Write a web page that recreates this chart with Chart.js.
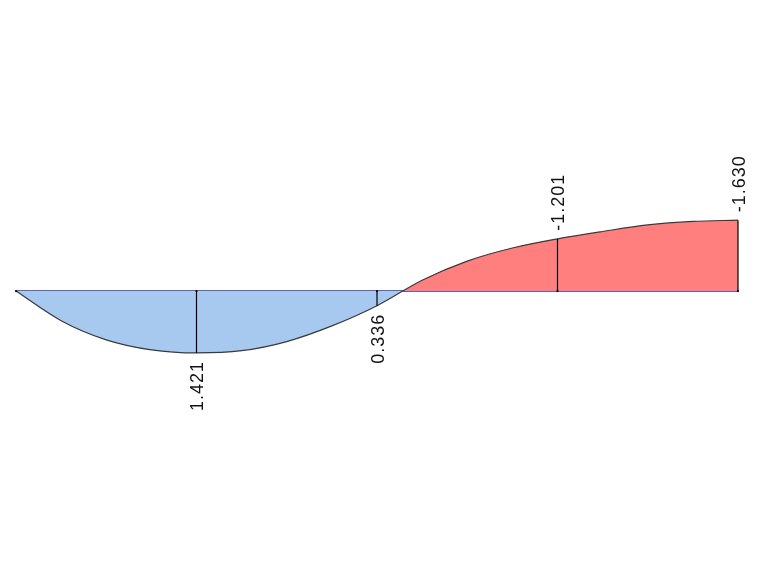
<!DOCTYPE html>
<html>
<head>
<meta charset="utf-8">
<script src="https://cdn.jsdelivr.net/npm/chart.js@4"></script>
<style>
  html, body { margin: 0; padding: 0; background: #fff; }
  #wrap { width: 760px; height: 570px; }
</style>
</head>
<body>
<div id="wrap"><canvas id="momentChart" width="760" height="570"></canvas></div>
<script>
// bending moment along the beam (positive = sagging, drawn below the axis)
const positions = [0, 0.25, 0.5, 0.75, 1, 1.25, 1.5, 1.75, 2, 2.25, 2.5, 2.75, 3, 3.25, 3.5, 3.75, 4];
const moments   = [0, 0.68, 1.12, 1.35, 1.421, 1.37, 1.16, 0.80, 0.336, -0.25, -0.69, -0.99, -1.201, -1.37, -1.52, -1.60, -1.630];

// stations that get a vertical marker and a value label
const stationPos = [0, 1, 2, 3, 4];
const stationVal = [0, 1.421, 0.336, -1.201, -1.630];
const stationLabel = ['', '1.421', '0.336', '-1.201', '-1.630'];

const curveData = positions.map((x, i) => ({ x: x, y: moments[i] }));
const axisData = [{ x: positions[0], y: 0 }, { x: positions[positions.length - 1], y: 0 }];

// draws station verticals and rotated value labels using the chart scales
const stationPlugin = {
    id: 'stations',
    afterDatasetsDraw(chart) {
        const ctx = chart.ctx;
        const xs = chart.scales.x;
        const ys = chart.scales.y;
        const y0 = ys.getPixelForValue(0);

        ctx.save();
        stationPos.forEach((p, i) => {
            const px = xs.getPixelForValue(p);
            const py = ys.getPixelForValue(stationVal[i]);

            ctx.strokeStyle = '#000';
            ctx.lineWidth = 1.2;
            ctx.beginPath();
            ctx.moveTo(px, y0);
            ctx.lineTo(px, py);
            ctx.stroke();

            ctx.fillStyle = '#000';
            ctx.beginPath();
            ctx.arc(px, y0, 1.1, 0, Math.PI * 2);
            ctx.fill();

            const txt = stationLabel[i];
            if (!txt) return;

            ctx.font = '18px "Liberation Sans", Arial, sans-serif';
            ctx.letterSpacing = '1px';
            const w = ctx.measureText(txt).width;
            const gap = 8;
            const below = stationVal[i] > 0;
            ctx.save();
            ctx.translate(px + 1, below ? py + gap : py - gap);
            ctx.rotate(-Math.PI / 2);
            ctx.textBaseline = 'middle';
            ctx.textAlign = below ? 'right' : 'left';
            // white box behind the label
            ctx.fillStyle = '#fff';
            if (below) ctx.fillRect(-w - 2, -8, w + 4, 16);
            else ctx.fillRect(-2, -8, w + 4, 16);
            ctx.fillStyle = '#111';
            ctx.fillText(txt, 0, 1);
            ctx.restore();
        });
        ctx.restore();
    }
};

new Chart(document.getElementById('momentChart'), {
    type: 'line',
    data: {
        datasets: [
            {
                label: 'M',
                data: curveData,
                borderColor: '#3a3a3a',
                borderWidth: 1.2,
                pointRadius: 0,
                cubicInterpolationMode: 'monotone',
                fill: {
                    target: 'origin',
                    above: '#ff7f7f',   // pixel-above the axis (negative values, y reversed)
                    below: '#a7c9f0'
                }
            },
            {
                label: 'axis',
                data: axisData,
                borderColor: '#2e2e9e',
                borderWidth: 1.5,
                pointRadius: 0,
                fill: false
            }
        ]
    },
    options: {
        responsive: false,
        animation: false,
        layout: { padding: { left: 16, right: 22, top: 0, bottom: 0 } },
        plugins: {
            legend: { display: false },
            tooltip: { enabled: false }
        },
        scales: {
            x: { type: 'linear', min: 0, max: 4, display: false },
            y: { type: 'linear', min: -6.69, max: 6.41, reverse: true, display: false }
        }
    },
    plugins: [stationPlugin]
});
</script>
</body>
</html>
